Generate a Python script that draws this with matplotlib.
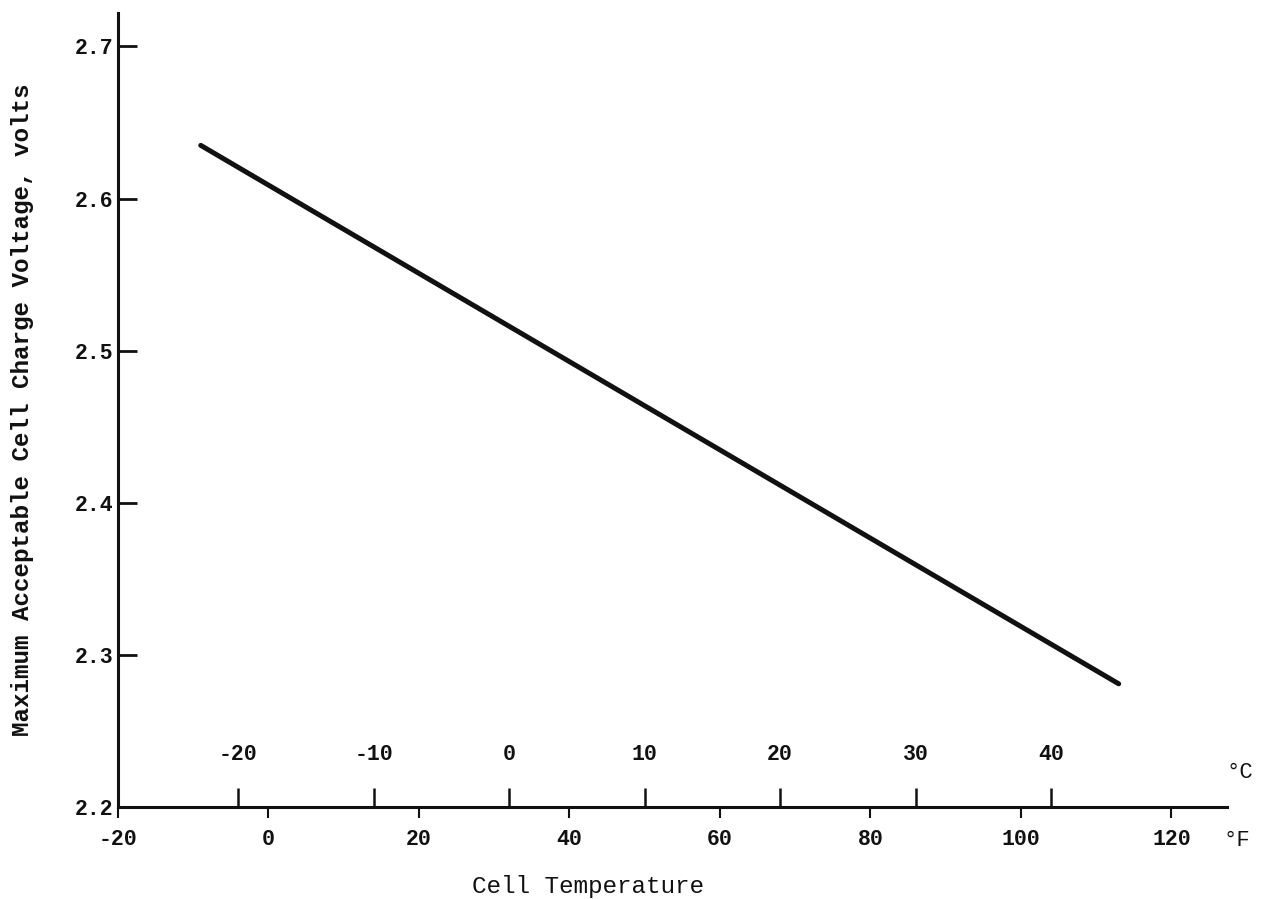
import matplotlib
matplotlib.use('Agg')
import matplotlib.pyplot as plt

FONT = 'Liberation Mono'
INK = '#111111'
TICK_SIZE = 15.5
LABEL_SIZE = 17.5

temp_f = [-9, 113]
voltage = [2.635, 2.281]

f_ticks = [-20, 0, 20, 40, 60, 80, 100, 120]
c_ticks = [-20, -10, 0, 10, 20, 30, 40]
v_ticks = [2.2, 2.3, 2.4, 2.5, 2.6, 2.7]

X_MIN, X_MAX = -20, 127.4
Y_MIN, Y_MAX = 2.2, 2.722


def f_to_c(f):
    return (f - 32) * 5 / 9


def draw():
    plt.rcParams['font.family'] = [FONT, 'DejaVu Sans']
    fig = plt.figure(figsize=(12.62, 8.99), dpi=100)
    ax = fig.add_axes([0.0935, 0.1023, 0.8788, 0.8832])

    ax.plot(temp_f, voltage, color=INK, lw=3.6, solid_capstyle='round')
    ax.set_xlim(X_MIN, X_MAX)
    ax.set_ylim(Y_MIN, Y_MAX)

    for side in ['top', 'right']:
        ax.spines[side].set_visible(False)
    for side in ['left', 'bottom']:
        ax.spines[side].set_linewidth(2.2)
        ax.spines[side].set_color(INK)

    # fahrenheit scale under the axis
    ax.set_xticks(f_ticks)
    ax.set_xticklabels([str(t) for t in f_ticks], fontweight='bold')
    ax.tick_params(axis='x', direction='out', length=8, width=1.5, pad=8,
                   labelsize=TICK_SIZE, colors=INK)

    ax.set_yticks(v_ticks)
    ax.set_yticklabels([f'{v:.1f}' for v in v_ticks], fontweight='bold')
    ax.tick_params(axis='y', direction='in', length=14, width=2, pad=3,
                   labelsize=TICK_SIZE, colors=INK)

    # celsius scale drawn on top of the same line
    ax2 = ax.twiny()
    ax2.set_xlim(f_to_c(X_MIN), f_to_c(X_MAX))
    ax2.spines['top'].set_position(('axes', 0))
    for side in ax2.spines:
        ax2.spines[side].set_visible(False)
    ax2.set_xticks(c_ticks)
    ax2.set_xticklabels([str(t) for t in c_ticks], fontweight='bold')
    ax2.tick_params(axis='x', direction='out', length=14, width=1.8, pad=16,
                    labelsize=TICK_SIZE, colors=INK)

    fig.text(1240 / 1262, 1 - 773 / 899, '°C', fontsize=16, color=INK,
             ha='center', va='center')
    fig.text(1237 / 1262, 1 - 841 / 899, '°F', fontsize=16, color=INK,
             ha='center', va='center')

    fig.text(588 / 1262, 1 - 886 / 899, 'Cell Temperature', fontsize=LABEL_SIZE,
             color=INK, ha='center', va='center')
    fig.text(23 / 1262, 1 - 410 / 899,
             'Maximum Acceptable Cell Charge Voltage, volts',
             fontsize=LABEL_SIZE, fontweight='bold', color=INK, rotation=90,
             ha='center', va='center')

    fig.savefig('out.png', dpi=100)


if __name__ == '__main__':
    draw()
